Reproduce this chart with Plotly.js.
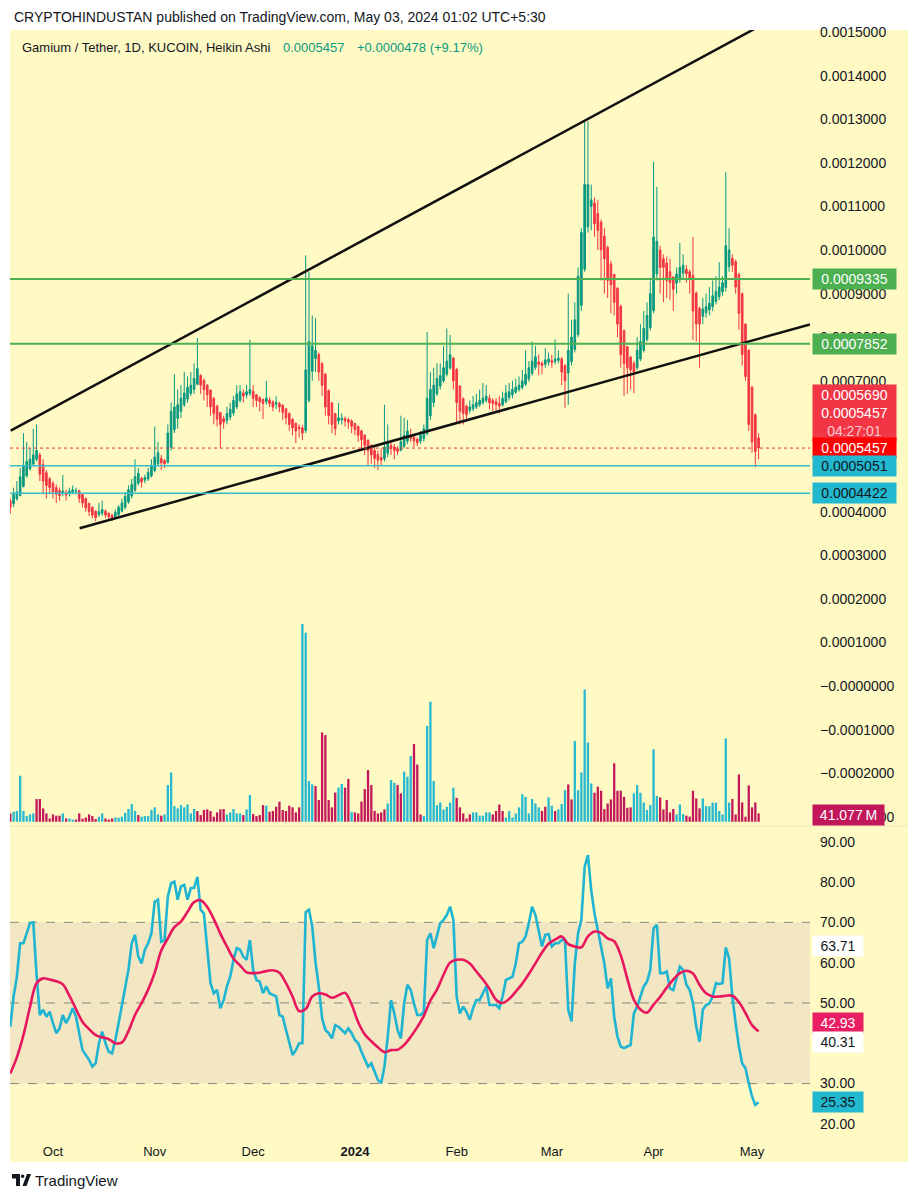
<!DOCTYPE html>
<html><head><meta charset="utf-8">
<script src="https://cdn.plot.ly/plotly-3.0.1.min.js"></script>
<style>html,body{margin:0;padding:0;background:#fff}#chart{width:919px;height:1200px}</style>
</head><body><div id="chart"></div>
<script>
// ---------- DATA (Heikin Ashi daily candles, prices in 1e-6 USDT) ----------
const firstDay = [2023, 8, 18]; // 2023-09-18, one candle per day
const haOpen = [425,418,429,437,458,482,498,509,520,530,
508,489,475,465,455,448,442,444,441,444,
447,448,439,430,419,410,401,393,396,401,
396,392,388,393,401,410,422,436,449,465,
476,472,475,482,494,510,522,517,513,547,
588,614,630,645,658,671,680,692,712,701,
690,679,660,642,627,613,609,617,626,640,
655,672,668,671,676,668,661,657,652,656,
652,646,648,644,636,625,612,602,594,592,
586,655,722,751,760,740,715,678,649,625,
608,611,613,611,608,602,595,585,575,563,
551,540,531,524,521,534,552,548,544,541,
550,562,574,571,566,562,568,579,620,650,
670,688,700,715,730,752,726,688,659,642,
632,636,640,645,650,655,660,655,652,648,
645,652,662,668,674,680,685,692,704,717,
731,743,740,738,743,746,744,747,750,735,
718,744,772,806,873,956,1053,1100,1108,1084,
1064,1032,1006,968,944,912,871,815,778,754,
740,730,750,770,795,822,861,945,1000,980,
970,950,938,924,934,947,956,950,942,901,
866,848,856,863,870,882,893,904,914,962,
981,973,944,900,830,770,685,622,569];
const haHigh = [430,455,470,500,580,560,545,590,600,535,
520,495,480,470,462,455,484,450,455,460,
455,450,442,432,420,412,403,420,425,405,
398,395,405,415,430,445,460,475,520,500,
480,485,500,520,595,560,530,520,600,650,
715,680,690,720,710,720,740,798,715,705,
692,680,662,645,628,620,640,650,665,690,
690,680,690,794,690,670,665,660,700,662,
655,665,652,646,638,628,614,605,600,598,
988,950,850,844,765,742,718,680,652,626,
649,625,618,615,612,604,598,588,578,566,
555,548,540,545,645,600,565,555,550,620,
615,610,590,578,570,585,600,812,720,730,
740,740,780,820,805,755,730,690,662,645,
655,665,670,680,695,690,668,660,660,665,
675,690,695,700,705,710,725,770,745,790,
780,760,745,775,765,760,795,770,755,738,
900,840,880,960,1050,1295,1295,1150,1120,1115,
1070,1050,1010,975,945,915,875,818,780,758,
745,800,830,860,880,930,1202,1145,1010,990,
985,980,940,960,1016,990,965,955,1030,905,
870,890,900,915,930,940,972,940,1179,1050,
990,978,948,902,832,772,688,625,580];
const haLow = [395,410,425,435,455,478,494,505,515,470,
440,430,440,430,420,425,435,425,435,440,
440,420,410,400,390,385,378,388,390,385,
380,378,383,390,398,405,418,430,445,460,
455,465,470,478,490,505,495,500,510,540,
580,590,615,640,650,665,670,690,670,655,
640,620,600,595,546,590,600,610,620,635,
650,650,660,665,640,640,630,612,645,640,
630,635,628,610,600,585,575,557,570,564,
580,650,700,720,700,665,620,600,580,575,
600,600,595,590,580,575,560,545,530,505,
510,500,495,505,515,525,530,520,530,538,
545,555,560,548,550,555,560,575,610,640,
665,680,695,710,725,680,605,600,600,612,
625,630,635,640,645,650,635,630,630,625,
640,648,655,660,670,675,680,688,698,712,
725,713,715,730,735,730,738,740,690,638,
645,735,765,800,860,950,1040,1045,1030,1000,
930,900,890,855,850,800,730,665,670,680,
672,725,745,765,790,815,855,930,900,880,
890,885,860,900,925,935,925,900,794,790,
730,830,845,850,860,875,885,895,905,950,
950,900,817,735,700,585,535,502,520];
const haClose = [410,440,445,480,505,515,520,530,540,485,
470,460,455,445,440,437,447,438,447,450,
448,430,420,408,400,392,386,400,405,392,
388,385,398,410,420,435,450,462,480,488,
468,478,490,505,525,535,512,510,580,630,
640,645,660,672,685,690,705,728,690,680,
668,640,625,612,600,605,625,635,655,670,
675,665,675,680,660,655,652,648,660,648,
640,650,640,628,615,600,592,585,590,580,
725,790,780,770,720,690,640,620,600,590,
615,614,608,605,596,588,575,565,552,540,
530,522,518,518,548,560,545,540,538,560,
575,585,568,562,558,575,590,660,680,690,
705,712,730,745,760,700,650,630,625,622,
640,645,650,655,660,665,650,648,645,642,
660,672,675,680,685,690,700,715,730,745,
755,738,735,748,750,742,750,752,720,700,
770,800,840,940,1040,1150,1150,1115,1060,1045,
1000,980,930,920,880,830,760,740,730,725,
720,770,790,820,850,900,1030,1020,960,960,
930,925,910,945,960,965,945,935,860,830,
830,865,870,878,895,905,915,925,1010,1000,
965,915,855,760,710,600,560,538,546];
// volume in millions, direction u = up bar, d = down bar
const volumeM = [41,49,53,227,53,28,36,41,112,112,
66,41,16,36,30,30,41,16,16,11,
11,41,15,21,36,28,13,25,41,16,
11,16,21,20,25,44,63,87,53,33,
25,28,28,58,71,36,30,36,181,243,
77,66,82,71,85,41,63,53,33,58,
61,53,25,46,61,63,36,46,63,41,
41,33,61,132,38,28,33,82,79,49,
53,74,99,58,53,79,71,46,71,975,
932,201,184,176,107,440,427,107,71,144,
169,186,168,211,49,46,41,99,161,255,
181,54,41,46,61,90,206,192,181,140,
247,222,324,383,282,36,28,473,592,201,
82,95,61,74,94,168,118,71,
41,16,36,46,46,30,30,46,46,36,
53,85,53,21,53,21,41,71,136,123,
41,112,90,71,53,74,120,79,53,61,
87,156,184,110,398,156,243,652,391,189,
143,173,153,62,90,110,288,153,153,123,
69,71,140,181,143,95,58,82,357,127,
120,61,107,46,63,36,85,38,30,25,
153,115,66,115,77,77,94,94,53,36,
411,95,112,36,233,95,25,179,71,95,41.077];
const volumeDir = "duuuuuuudd"+"dddddduduu"+"ddddddduud"+"dduuuuuuud"+"uuuuuuduuu"+
"uuuuuuuddd"+"dddddduuuu"+"uduuddddud"+"dddddddddu"+"uuuddddddd"+"uudduddddd"+
"ddddduuudd"+"uuuddduuuu"+"uuuuuudd"+"ddduuuuuud"+"ddduuuuuuu"+"uuuudduudu"+
"uudduuuuuu"+"dddddddddd"+"dduuuuuuuu"+"ddddduuudd"+"ddduuuuuuu"+"uuddddddddd";
const rsi = [44.1,51.6,56.5,64.8,64.8,67.3,69.8,70.0,57.0,47.0,
48.3,46.6,47.8,45.0,42.5,43.7,47.0,45.0,46.6,48.7,
46.6,42.5,38.3,37.1,35.9,34.2,35.0,40.0,42.9,40.0,
37.9,37.5,40.8,45.0,49.1,53.2,58.2,64.8,66.9,61.5,
59.8,63.2,64.8,67.3,75.1,75.6,65.2,65.6,76.4,79.7,
80.1,75.6,78.9,79.3,75.6,78.5,78.5,81.3,73.1,72.2,
64.0,54.9,52.4,53.2,48.7,50.7,54.1,56.5,60.7,63.6,
63.2,61.5,60.7,65.6,58.2,55.7,55.3,52.4,54.1,52.4,
52.0,51.6,47.0,46.6,43.3,40.0,37.1,38.3,40.0,40.0,
72.5,73.1,69.0,60.0,54.0,46.2,43.3,42.5,41.2,44.5,
44.1,43.3,42.5,43.7,42.5,40.8,40.0,37.9,35.9,34.2,
35.0,33.0,30.9,30.1,34.2,41.6,50.7,47.4,43.3,41.2,
49.9,54.5,53.2,49.9,47.0,47.0,47.8,65.6,67.3,63.6,
66.9,69.8,70.6,71.8,73.9,70.6,51.6,47.4,49.1,47.8,
45.8,48.7,50.7,50.7,52.4,54.1,49.5,49.5,49.5,48.7,
51.6,55.7,56.1,56.5,59.8,64.8,65.2,66.5,69.8,73.9,
71.8,67.7,64.0,66.9,67.1,64.0,64.8,64.8,65.6,65.6,
48.3,45.4,59.8,67.3,70.6,83.8,86.7,78.0,72.2,68.1,
64.0,59.8,53.6,56.1,46.6,41.6,39.2,38.8,39.2,39.6,
47.4,49.1,51.6,54.1,55.3,58.2,68.5,69.4,57.4,57.4,
57.8,53.6,53.2,56.1,59.0,58.2,54.5,53.2,49.9,44.1,
40.4,48.3,49.5,49.9,51.6,54.9,54.7,54.9,63.8,61.1,
51.6,45.0,39.2,35.0,33.8,30.1,26.8,24.7,25.35];
// RSI moving average, one reading every 2 days
const rsiMA = [32.5,36.5,42,49,54.9,56.1,55.8,55.4,54.6,51.8,
48.5,45.3,43.5,42,41.5,41,40,40.2,43,47,
50,53.3,57.5,63,66,68.8,70.2,72.6,75,75.5,
73.8,70.8,67.2,64,61,59.3,57.6,57.4,57.5,57.9,
58.1,57.5,54.9,51.6,48,48.5,51.6,52.4,52.1,51.3,
51.9,52.5,49.6,45.2,42.2,40.5,39,37.8,38.3,38.4,
39.6,41.6,44,46.8,50.6,53.3,57,60,60.7,60.7,
59.8,57.8,55.8,53.5,50.8,50,51,52.8,54.8,57.2,
59.8,62.5,64.7,65.7,66.5,64.6,64,63.8,66.5,67.7,
67.4,66,65.3,61.8,56,50.8,48.4,47.6,49.6,51.5,
53.8,55.8,57.4,58,57.3,54.5,52.4,51.6,51.6,51.8,
51.8,50.2,47.5,44.5,42.93];
// drawings
const upperTrend = {x:['2023-09-18 03:00','2024-05-01 22:00'], y:[0.0005856,0.0015078]};
const lowerTrend = {x:['2023-10-09 03:00','2024-05-18 15:00'], y:[0.0003617,0.0008294]};
const greenLevels = [0.0009335, 0.0007852];
const cyanLevels = [0.0005051, 0.0004422];
const lastPrice = 0.0005457;
const monthTicks = ['2023-10-01','2023-11-01','2023-12-01','2024-01-01','2024-02-01','2024-03-01','2024-04-01','2024-05-01'];
const monthLabels = ['Oct','Nov','Dec','<b>2024</b>','Feb','Mar','Apr','May'];
// axis labels visible in the picture (0.0005, 0.0006 and 40.00 are hidden behind price tags)
const priceTicks = [-0.0003,-0.0002,-0.0001,0,0.0001,0.0002,0.0003,0.0004,0.0007,0.0008,0.0009,0.0010,0.0011,0.0012,0.0013,0.0014,0.0015];
const rsiTicks = [20,30,50,60,70,80,90];

// ---------- BUILD ----------
const U = 1e-6, DAY = 86400000;
const dates = haClose.map((_, i) => new Date(Date.UTC(firstDay[0], firstDay[1], firstDay[2] + i)).toISOString().slice(0, 10));
const toP = a => a.map(v => v * U);
const W = 919, H = 1200;
const PX = x => x / W, PY = y => 1 - y / H;
const FONT = 'Liberation Sans, Arial, Helvetica, sans-serif';
const TXT = '#131722';
const G = '#089981', R = '#f23645', VU = '#26b9d1', VD = '#c2185b';

const traces = [
  {type:'bar', x:dates, y:volumeM, xaxis:'x', yaxis:'y2', width:0.7*DAY,
   marker:{color:volumeDir.split('').map(c => c === 'u' ? VU : VD), line:{width:0}}, hoverinfo:'skip'},
  {type:'candlestick', x:dates, open:toP(haOpen), high:toP(haHigh), low:toP(haLow), close:toP(haClose),
   xaxis:'x', yaxis:'y', whiskerwidth:0, hoverinfo:'skip',
   increasing:{line:{color:G, width:1}, fillcolor:G}, decreasing:{line:{color:R, width:1}, fillcolor:R}},
  {type:'scatter', mode:'lines', x:upperTrend.x, y:upperTrend.y, xaxis:'x', yaxis:'y', line:{color:'#111', width:2.5}, hoverinfo:'skip'},
  {type:'scatter', mode:'lines', x:lowerTrend.x, y:lowerTrend.y, xaxis:'x', yaxis:'y', line:{color:'#111', width:2.5}, hoverinfo:'skip'},
  {type:'scatter', mode:'lines', x:dates, y:rsi, xaxis:'x', yaxis:'y3', line:{color:'#1fb4d2', width:2.6}, hoverinfo:'skip'},
  {type:'scatter', mode:'lines', x:rsiMA.map((_, k) => dates[2*k]), y:rsiMA, xaxis:'x', yaxis:'y3', line:{color:'#e8175d', width:2.6, shape:'spline'}, hoverinfo:'skip'}
];

const shapes = [
  {type:'rect', xref:'paper', yref:'paper', x0:PX(10), x1:PX(908), y0:PY(1162), y1:PY(30), fillcolor:'#fff9c4', line:{width:0}, layer:'below'},
  {type:'rect', xref:'paper', yref:'y3', x0:PX(10), x1:PX(810), y0:30, y1:70, fillcolor:'#f2e6c3', line:{width:0}, layer:'below'},
  {type:'line', xref:'paper', yref:'paper', x0:PX(10), x1:PX(908), y0:PY(826), y1:PY(826), line:{color:'#ece5bf', width:1}}
];
[70, 50, 30].forEach(v => shapes.push({type:'line', xref:'paper', yref:'y3', x0:PX(10), x1:PX(810), y0:v, y1:v, line:{color:'#8a8a80', width:1, dash:'dash'}, layer:'below'}));
greenLevels.forEach(v => shapes.push({type:'line', xref:'paper', yref:'y', x0:PX(10), x1:PX(810), y0:v, y1:v, line:{color:'#4caf50', width:2}}));
cyanLevels.forEach(v => shapes.push({type:'line', xref:'paper', yref:'y', x0:PX(10), x1:PX(810), y0:v, y1:v, line:{color:'#3bbccc', width:1.5}}));
shapes.push({type:'line', xref:'paper', yref:'y', x0:PX(10), x1:PX(810), y0:lastPrice, y1:lastPrice, line:{color:'#e53935', width:1, dash:'dot'}});
// TradingView logo glyph
shapes.push({type:'rect', xref:'paper', yref:'paper', x0:PX(12), x1:PX(20), y0:PY(1178.5), y1:PY(1174), fillcolor:TXT, line:{width:0}});
shapes.push({type:'rect', xref:'paper', yref:'paper', x0:PX(16), x1:PX(20), y0:PY(1186), y1:PY(1174), fillcolor:TXT, line:{width:0}});
shapes.push({type:'circle', xref:'paper', yref:'paper', x0:PX(20.8), x1:PX(24.4), y0:PY(1178), y1:PY(1174.4), fillcolor:TXT, line:{width:0}});
shapes.push({type:'path', xref:'paper', yref:'paper', fillcolor:TXT, line:{width:0},
  path:`M ${PX(22.5)} ${PY(1186)} L ${PX(26.5)} ${PY(1186)} L ${PX(31)} ${PY(1174)} L ${PX(27)} ${PY(1174)} Z`});

function box(text, y, bg, color, width, yref) {
  return {xref:'paper', yref:yref || 'paper', x:PX(812), y:y, xanchor:'left', yanchor:'middle', text:text,
    showarrow:false, bgcolor:bg, borderpad:2, width:width, align:'center',
    font:{family:FONT, size:14, color:color}};
}
const annotations = [
  {xref:'paper', yref:'paper', x:PX(12), y:PY(17), xanchor:'left', yanchor:'middle', showarrow:false,
   text:'CRYPTOHINDUSTAN published on TradingView.com, May 03, 2024 01:02 UTC+5:30', font:{family:FONT, size:14, color:TXT}},
  {xref:'paper', yref:'paper', x:PX(20), y:PY(47), xanchor:'left', yanchor:'middle', showarrow:false,
   text:'Gamium / Tether, 1D, KUCOIN, Heikin Ashi', font:{family:FONT, size:13, color:TXT}},
  {xref:'paper', yref:'paper', x:PX(281), y:PY(47), xanchor:'left', yanchor:'middle', showarrow:false,
   text:'0.0005457', font:{family:FONT, size:13, color:G}},
  {xref:'paper', yref:'paper', x:PX(355), y:PY(47), xanchor:'left', yanchor:'middle', showarrow:false,
   text:'+0.0000478 (+9.17%)', font:{family:FONT, size:13, color:G}},
  box('0.0009335', greenLevels[0], '#4caf50', '#ffffff', 79, 'y'),
  box('0.0007852', greenLevels[1], '#4caf50', '#ffffff', 79, 'y'),
  box('0.0005690<br>0.0005457<br><span style="color:#ffc9cf">04:27:01</span>', PY(412.5), '#f23645', '#ffffff', 79),
  box('0.0005457', lastPrice, '#ff0000', '#ffffff', 79, 'y'),
  box('0.0005051', cyanLevels[0], '#22b8cf', TXT, 79, 'y'),
  box('0.0004422', cyanLevels[1], '#22b8cf', TXT, 79, 'y'),
  box('41.077\u2009M', PY(815), '#c2185b', '#ffffff', 67),
  box('63.71', PY(946.5), '#ffffff', TXT, 46),
  box('42.93', PY(1023), '#e91e63', '#ffffff', 46),
  box('40.31', PY(1041.5), '#ffffff', TXT, 46),
  box('25.35', rsi[rsi.length - 1], '#22b8cf', TXT, 46, 'y3'),
  {xref:'paper', yref:'paper', x:PX(33), y:PY(1180), xanchor:'left', yanchor:'middle', showarrow:false,
   text:'TradingView', font:{family:FONT, size:15, color:TXT}}
];

const fmtP = v => (v <= 0 ? '\u2212' : '') + Math.abs(v).toFixed(7);
const layout = {
  width:W, height:H, margin:{l:0, r:0, t:0, b:0},
  paper_bgcolor:'#ffffff', plot_bgcolor:'rgba(0,0,0,0)',
  showlegend:false, hovermode:false, dragmode:false,
  font:{family:FONT, color:TXT},
  xaxis:{type:'date', domain:[PX(10), PX(810)], range:['2023-09-17 21:48', '2024-05-18 15:50'], anchor:'y3',
    rangeslider:{visible:false}, showgrid:false, zeroline:false, showline:false, ticks:'',
    tickvals:monthTicks, ticktext:monthLabels, tickfont:{family:FONT, size:13, color:TXT}, ticklabelstandoff:2},
  yaxis:{domain:[PY(825), PY(30)], range:[-0.0003188, 0.0015046], side:'right', anchor:'x',
    showgrid:false, zeroline:false, showline:false, ticks:'', tickvals:priceTicks, ticktext:priceTicks.map(fmtP),
    tickfont:{family:FONT, size:14, color:TXT}, ticklabelstandoff:9},
  yaxis2:{domain:[PY(825), PY(30)], overlaying:'y', range:[-16, 3903], visible:false, anchor:'x'},
  yaxis3:{domain:[PY(1140), PY(828)], range:[16.0, 93.4], side:'right', anchor:'x',
    showgrid:false, zeroline:false, showline:false, ticks:'', tickvals:rsiTicks, ticktext:rsiTicks.map(v => v.toFixed(2)),
    tickfont:{family:FONT, size:14, color:TXT}, ticklabelstandoff:9},
  shapes:shapes, annotations:annotations
};
Plotly.newPlot('chart', traces, layout, {staticPlot:true, displayModeBar:false});
</script></body></html>
